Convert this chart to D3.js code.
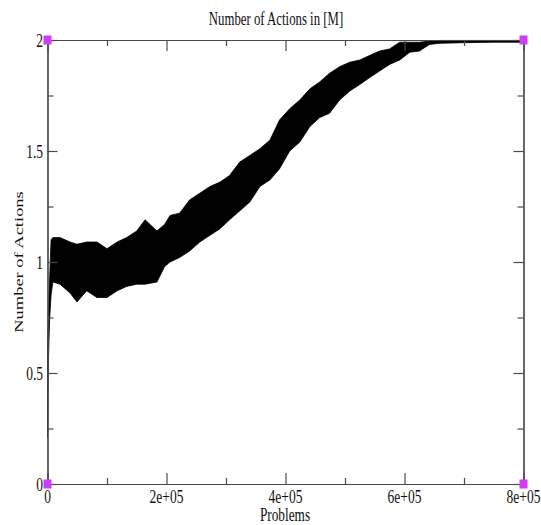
<!DOCTYPE html>
<html>
<head>
<meta charset="utf-8">
<script src="https://cdn.jsdelivr.net/npm/d3@7"></script>
<style>
  body { margin: 0; background: #fff; }
  text { font-family: "Liberation Serif", "Times New Roman", serif; fill: #111; }
</style>
</head>
<body>
<svg id="chart"></svg>
<script>
const width = 541, height = 525;
const margin = { top: 40, right: 17.5, bottom: 41, left: 47.5 };

// Band of the noisy trace (min / max at each x)
const problems = [0, 1500, 3500, 6000, 9000, 21000, 38000, 49500, 66000, 83000,
  100000, 117000, 133000, 150000, 164000, 184000, 197000, 206000, 222000, 239000,
  256000, 273000, 290000, 306000, 323000, 340000, 357000, 374000, 390000, 407000,
  424000, 441000, 457000, 474000, 491000, 508000, 525000, 541000, 558000, 575000,
  592000, 609000, 625000, 642000, 659000, 700000, 750000, 800000];
const actionsLow = [0.21, 0.55, 0.74, 0.85, 0.91, 0.90, 0.86, 0.82, 0.87, 0.84,
  0.84, 0.87, 0.89, 0.90, 0.90, 0.91, 0.98, 1.00, 1.02, 1.05,
  1.09, 1.12, 1.15, 1.19, 1.23, 1.27, 1.34, 1.37, 1.42, 1.50,
  1.54, 1.61, 1.65, 1.67, 1.73, 1.77, 1.80, 1.83, 1.86, 1.89,
  1.91, 1.945, 1.95, 1.98, 1.985, 1.988, 1.99, 1.99];
const actionsHigh = [0.62, 0.78, 0.92, 1.10, 1.11, 1.11, 1.09, 1.08, 1.09, 1.09,
  1.06, 1.09, 1.11, 1.14, 1.19, 1.14, 1.17, 1.21, 1.22, 1.28,
  1.31, 1.34, 1.36, 1.39, 1.45, 1.48, 1.51, 1.55, 1.64, 1.69,
  1.73, 1.78, 1.81, 1.85, 1.88, 1.90, 1.91, 1.93, 1.95, 1.96,
  1.99, 1.99, 1.99, 1.995, 1.998, 1.998, 1.998, 1.998];

// magenta corner markers
const cornerX = [0, 0, 800000, 800000];
const cornerY = [0, 2, 0, 2];

const xMajor = [0, 200000, 400000, 600000, 800000];
const xMinor = [100000, 300000, 500000, 700000];
const yMajor = [0, 0.5, 1, 1.5, 2];
const yMinor = [0.25, 0.75, 1.25, 1.75];
const yLabels = ["0", "0.5", "1", "1.5", "2"];

const svg = d3.select("#chart").attr("width", width).attr("height", height);

const x = d3.scaleLinear().domain([0, 800000]).range([margin.left, width - margin.right]);
const y = d3.scaleLinear().domain([0, 2]).range([height - margin.bottom, margin.top]);

const xFmt = d => d === 0 ? "0" : d.toExponential().replace(/e\+(\d)$/, "e+0$1");

// data band
const band = problems.map((p, i) => ({ p, lo: actionsLow[i], hi: actionsHigh[i] }));
svg.append("path")
  .datum(band)
  .attr("fill", "#000")
  .attr("stroke", "#000")
  .attr("stroke-width", 0.8)
  .attr("d", d3.area().x(d => x(d.p)).y0(d => y(d.lo)).y1(d => y(d.hi)));

// axes (ticks point inward on all four sides)
const axisColor = "#4a4a4a";
function styleAxis(g) {
  g.select(".domain").attr("stroke", axisColor).attr("stroke-width", 1.2);
  g.selectAll(".tick line").attr("stroke", axisColor).attr("stroke-width", 1.2);
  g.selectAll(".tick text").remove();
}
const bottomY = y(0), topY = y(2), leftX = x(0), rightX = x(800000);

[[xMajor, 11], [xMinor, 6]].forEach(([vals, len]) => {
  svg.append("g").attr("transform", `translate(0,${bottomY})`)
    .call(d3.axisBottom(x).tickValues(vals).tickSize(-len).tickSizeOuter(0)).call(styleAxis);
  svg.append("g").attr("transform", `translate(0,${topY})`)
    .call(d3.axisTop(x).tickValues(vals).tickSize(-len).tickSizeOuter(0)).call(styleAxis);
});
[[yMajor, 10], [yMinor, 6]].forEach(([vals, len]) => {
  svg.append("g").attr("transform", `translate(${leftX},0)`)
    .call(d3.axisLeft(y).tickValues(vals).tickSize(-len).tickSizeOuter(0)).call(styleAxis);
  svg.append("g").attr("transform", `translate(${rightX},0)`)
    .call(d3.axisRight(y).tickValues(vals).tickSize(-len).tickSizeOuter(0)).call(styleAxis);
});

// tick labels (the source image is stretched vertically)
const stretch = 1.4;
svg.append("g").selectAll("text")
  .data(xMajor)
  .join("text")
  .attr("transform", d => `translate(${x(d)},${bottomY + 18.5}) scale(1,${stretch})`)
  .attr("text-anchor", "middle")
  .attr("font-size", 13.5)
  .text(xFmt);

svg.append("g").selectAll("text")
  .data(yMajor)
  .join("text")
  .attr("transform", d => `translate(43,${y(d) + 6.5}) scale(1,${stretch})`)
  .attr("text-anchor", "end")
  .attr("font-size", 13.5)
  .text((d, i) => yLabels[i]);

// title and axis labels
svg.append("text")
  .attr("transform", `translate(276,25) scale(1,${stretch})`)
  .attr("text-anchor", "middle")
  .attr("font-size", 12.8)
  .text("Number of Actions in [M]");

svg.append("text")
  .attr("transform", `translate(285,520.5) scale(1,${stretch})`)
  .attr("text-anchor", "middle")
  .attr("font-size", 13.3)
  .text("Problems");

svg.append("text")
  .attr("transform", `translate(23,${(topY + bottomY) / 2}) scale(1,${stretch}) rotate(-90)`)
  .attr("text-anchor", "middle")
  .attr("font-size", 13.2)
  .text("Number of Actions");

// corner markers
svg.append("g").selectAll("rect")
  .data(cornerX.map((c, i) => [c, cornerY[i]]))
  .join("rect")
  .attr("x", d => x(d[0]) - 4)
  .attr("y", d => y(d[1]) - 4.5)
  .attr("width", 8)
  .attr("height", 9)
  .attr("fill", "#d23cf5");
</script>
</body>
</html>
